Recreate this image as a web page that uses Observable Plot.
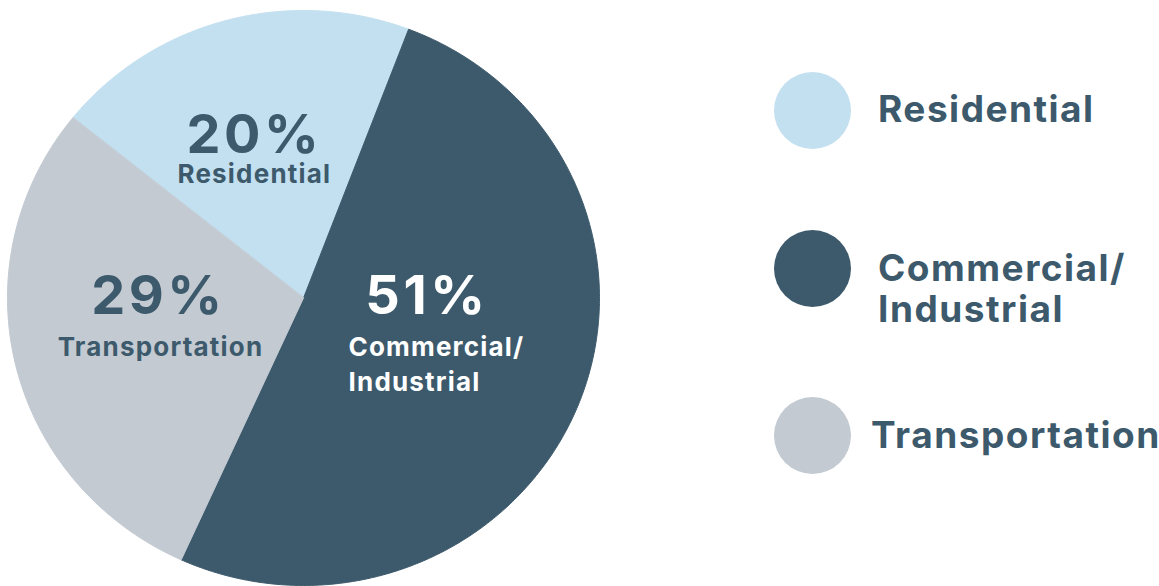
<!DOCTYPE html>
<html>
<head>
<meta charset="utf-8">
<script src="https://cdn.jsdelivr.net/npm/d3@7"></script>
<script src="https://cdn.jsdelivr.net/npm/@observablehq/plot@0.6"></script>
<style>
  html, body { margin: 0; padding: 0; background: #fff; }
  body { width: 1159px; height: 586px; position: relative; overflow: hidden; font-family: Inter, "Open Sans", sans-serif; }
  #chart { position: absolute; left: 0; top: 0; }
  #chart g[font-size="54"] text { letter-spacing: 3.5px; }
  #chart g[font-size="26"] text { letter-spacing: 1.2px; }
  .swatch { position: absolute; width: 77px; height: 77px; border-radius: 50%; }
  .legend-label { position: absolute; font-weight: 700; font-size: 37px; letter-spacing: 1.5px; color: #3d5a6c; white-space: nowrap; line-height: 41px; }
</style>
</head>
<body>
<div id="chart"></div>
<div id="legend"></div>
<script>
// ---- data ----
const categories = ["Residential", "Commercial/Industrial", "Transportation"];
const shares = [20, 51, 29];
const pieNames = ["Residential", "Commercial/\nIndustrial", "Transportation"];
const legendNames = ["Residential", "Commercial/\nIndustrial", "Transportation"];

// ---- styles & layout (not data) ----
const colors = ["#c3e0f0", "#3d5a6c", "#c3cad2"];
const textColor = "#3d5a6c";
const startAngle = -51.2 * Math.PI / 180;
// label anchors in pie-radius units (x right, y up)
const pctPos = {
  "Residential": {x: -0.166, y: 0.504, anchor: "middle"},
  "Commercial/Industrial": {x: 0.209, y: -0.054, anchor: "start"},
  "Transportation": {x: -0.490, y: -0.054, anchor: "middle"}
};
const namePos = {
  "Residential": {x: -0.166, y: 0.40, anchor: "middle"},
  "Commercial/Industrial": {x: 0.152, y: -0.322, anchor: "start"},
  "Transportation": {x: -0.483, y: -0.20, anchor: "middle"}
};

const rows = categories.map((c, i) => ({key: c, share: shares[i], name: pieNames[i]}));
const arcs = d3.pie().sort(null).value(d => d.share)
  .startAngle(startAngle).endAngle(startAngle + 2 * Math.PI)(rows);

// polygon outline of each slice from the pie angles
const pts = [];
for (const a of arcs) {
  pts.push({key: a.data.key, x: 0, y: 0});
  const n = Math.max(2, Math.ceil((a.endAngle - a.startAngle) / (0.5 * Math.PI / 180)));
  for (let k = 0; k <= n; k++) {
    const t = a.startAngle + (a.endAngle - a.startAngle) * k / n;
    pts.push({key: a.data.key, x: Math.sin(t), y: Math.cos(t)});
  }
}

const labels = rows.map(r => ({
  key: r.key,
  pct: r.share + "%",
  name: r.name,
  px: pctPos[r.key].x, py: pctPos[r.key].y,
  nx: namePos[r.key].x, ny: namePos[r.key].y
}));
const dark = labels.filter(d => d.key !== "Commercial/Industrial");
const light = labels.filter(d => d.key === "Commercial/Industrial");

const font = "Inter, 'Open Sans', sans-serif";
const chart = Plot.plot({
  width: 610,
  height: 586,
  marginLeft: 7,
  marginRight: 11,
  marginTop: 10,
  marginBottom: 1,
  x: {domain: [-1, 1], axis: null},
  y: {domain: [-1, 1], axis: null},
  color: {domain: categories, range: colors},
  style: {fontFamily: font, background: "transparent", overflow: "visible"},
  marks: [
    Plot.line(pts, {x: "x", y: "y", z: "key", fill: "key", stroke: "key", strokeWidth: 1, curve: "linear-closed"}),
    Plot.text(dark, {x: "px", y: "py", text: "pct", textAnchor: "middle", lineAnchor: "bottom", fill: textColor, fontSize: 54, fontWeight: 700}),
    Plot.text(dark, {x: "nx", y: "ny", text: "name", textAnchor: "middle", lineAnchor: "bottom", fill: textColor, fontSize: 26, fontWeight: 700}),
    Plot.text(light, {x: "px", y: "py", text: "pct", textAnchor: "start", lineAnchor: "bottom", fill: "white", fontSize: 54, fontWeight: 700}),
    Plot.text(light, {x: "nx", y: "ny", text: "name", textAnchor: "start", lineAnchor: "bottom", lineHeight: 1.33, fill: "white", fontSize: 26, fontWeight: 700})
  ]
});
document.getElementById("chart").appendChild(chart);

// ---- legend ----
const legendTops = [110, 268, 435];      // swatch centers (layout)
const labelTops = [88, 247, 414];
const labelLefts = [878, 878, 871];
const legend = document.getElementById("legend");
categories.forEach((c, i) => {
  const sw = document.createElement("div");
  sw.className = "swatch";
  sw.style.left = (812 - 38.5) + "px";
  sw.style.top = (legendTops[i] - 38.5) + "px";
  sw.style.background = colors[i];
  legend.appendChild(sw);
  const lb = document.createElement("div");
  lb.className = "legend-label";
  lb.style.left = labelLefts[i] + "px";
  lb.style.top = labelTops[i] + "px";
  lb.innerHTML = legendNames[i].split("\n").join("<br>");
  legend.appendChild(lb);
});
</script>
</body>
</html>
